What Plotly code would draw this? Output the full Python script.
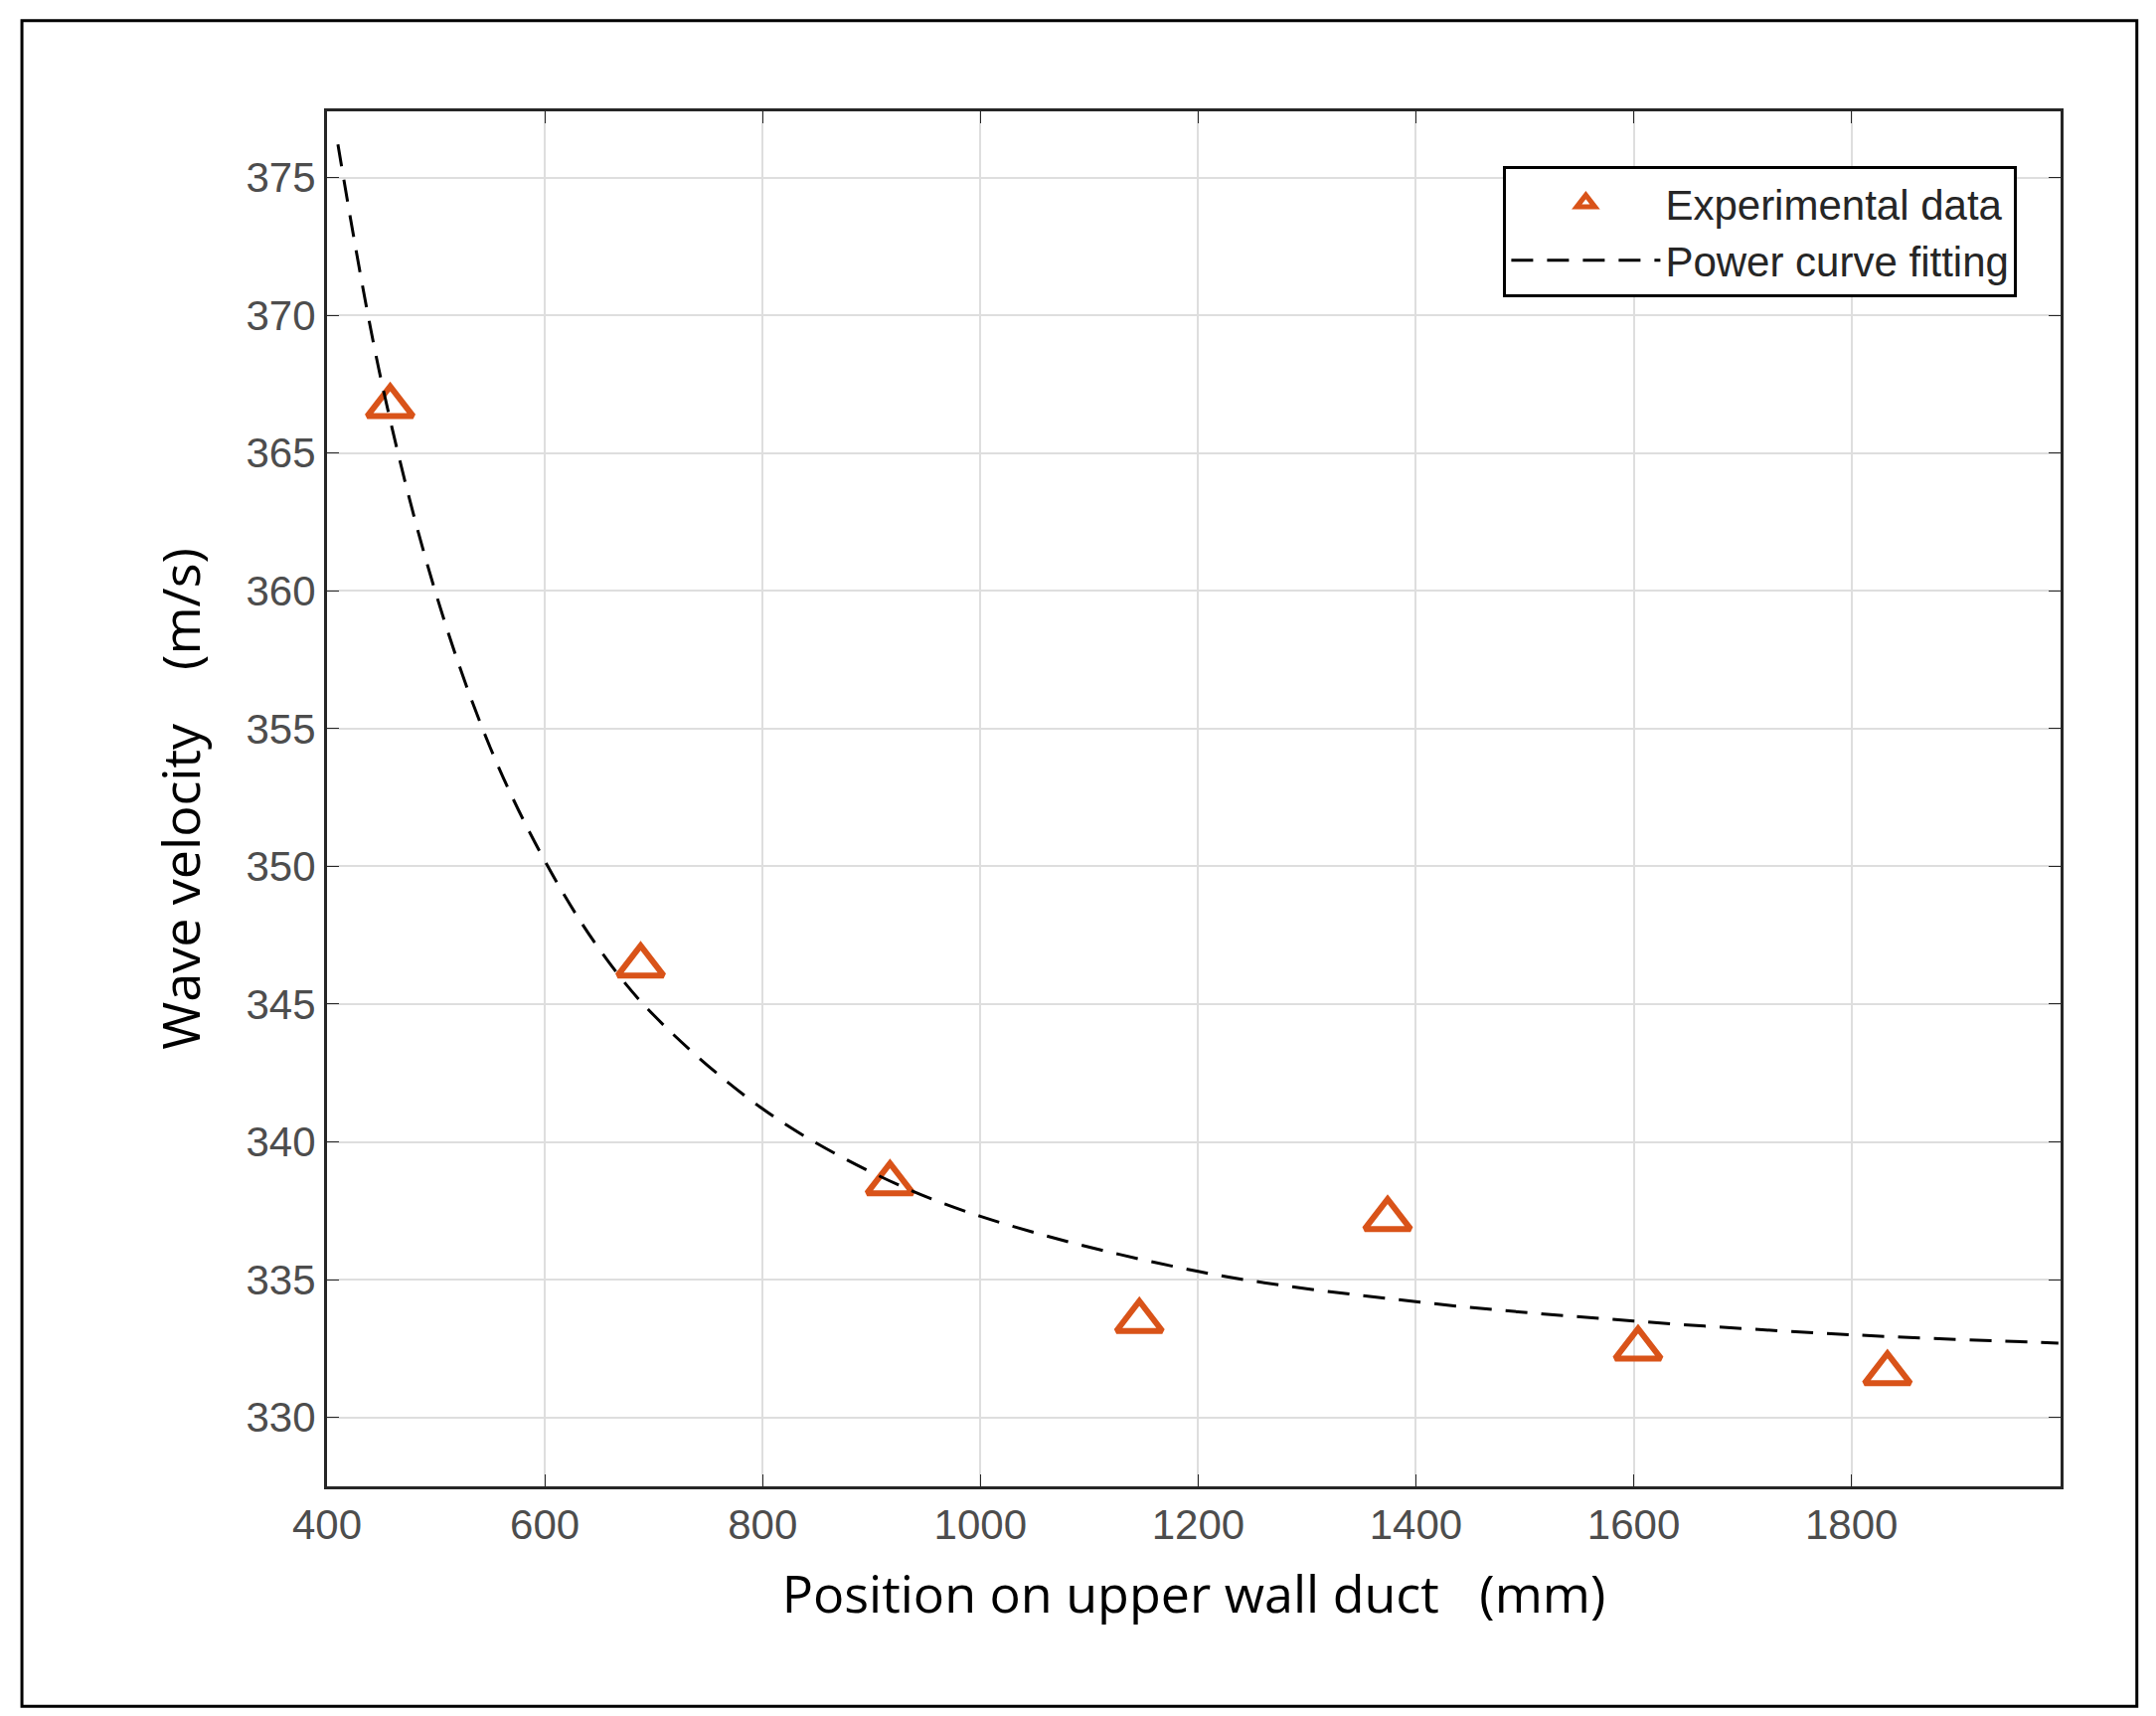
import plotly.graph_objects as go

exp_x = [458, 688, 917, 1146, 1374, 1604, 1833]
exp_y = [366.7, 346.4, 338.5, 333.5, 337.2, 332.5, 331.6]
fit_x = [410, 450, 500, 550, 600, 650, 700, 800, 900, 1000, 1200, 1400, 1600, 1800, 1990]
fit_y = [376.2, 367.6, 359.9, 354.3, 350.2, 347.0, 344.6, 341.2, 338.9, 337.3, 335.3, 334.2, 333.5, 333.0, 332.7]
x_ticks = [400, 600, 800, 1000, 1200, 1400, 1600, 1800]
y_ticks = [330, 335, 340, 345, 350, 355, 360, 365, 370, 375]

fig = go.Figure()
fig.add_trace(go.Scatter(x=exp_x, y=exp_y, mode="markers", name="Experimental data",
    marker=dict(symbol="triangle-up-open", size=40, color="#D95319", line=dict(width=6, color="#D95319"))))
fig.add_trace(go.Scatter(x=fit_x, y=fit_y, mode="lines", name="Power curve fitting", line_shape="spline",
    line=dict(color="black", width=3, dash="22px,14px")))

axis_common = dict(showline=True, linecolor="#262626", linewidth=3, mirror="allticks", ticks="inside",
    ticklen=12, tickcolor="#262626", showgrid=True, gridcolor="#DEDEDE", gridwidth=2, zeroline=False,
    tickfont=dict(family="Liberation Sans", size=42, color="#4D4D4D"))
fig.update_xaxes(range=[400, 1992], tickvals=x_ticks, **axis_common,
    title=dict(text="Position on upper wall duct   (mm)", font=dict(family="Open Sans", size=52, color="black"), standoff=30))
fig.update_yaxes(range=[327.5, 377.4], tickvals=y_ticks, **axis_common,
    title=dict(text="Wave velocity    (m/s)", font=dict(family="Open Sans", size=52, color="black"), standoff=30))

fig.update_layout(width=2169, height=1726, margin=dict(l=321, r=104, t=104, b=239),
    plot_bgcolor="white", paper_bgcolor="white", showlegend=True,
    legend=dict(x=0.975, y=0.96, xanchor="right", yanchor="top", bgcolor="white",
        bordercolor="black", borderwidth=3, font=dict(family="Liberation Sans", size=42, color="#262626"),
        itemwidth=150, tracegroupgap=0),
    shapes=[dict(type="rect", xref="paper", yref="paper", x0=-0.176, x1=1.044, y0=-0.160, y1=1.066,
        line=dict(color="black", width=3))])
fig.write_html("out.html")
